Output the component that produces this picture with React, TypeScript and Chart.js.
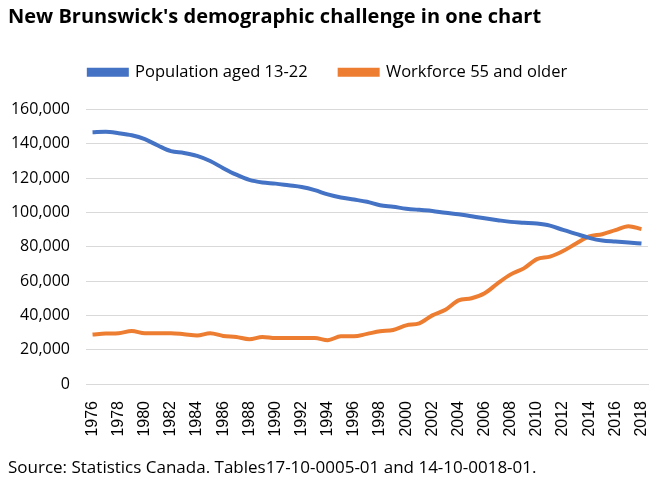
import React, { useEffect, useRef } from "react";
import { Chart, registerables } from "chart.js";

Chart.register(...registerables);

const years: string[] = [];
for (let y = 1976; y <= 2018; y++) years.push(String(y));

const population1322 = [
  146700, 147000, 146200, 145000, 142700, 139000, 135700, 134700, 133000, 130000,
  125800, 122000, 119000, 117500, 116800, 115800, 114800, 113000, 110500, 108700,
  107500, 106200, 104200, 103300, 102200, 101500, 100900, 99800, 99000, 97800,
  96600, 95500, 94500, 94000, 93500, 92300, 89800, 87500, 85200, 83600,
  83000, 82500, 81900,
];

const workforce55 = [
  28800, 29400, 29600, 30900, 29600, 29600, 29600, 29000, 28300, 29600,
  28000, 27400, 26100, 27400, 26800, 26800, 26800, 26800, 25500, 27800,
  27800, 29200, 30700, 31500, 34200, 35400, 40000, 43300, 48700, 50000,
  52900, 58700, 63900, 67400, 72800, 74200, 77500, 81900, 86000, 87300,
  89700, 92000, 90300,
];

const titleText = "New Brunswick's demographic challenge in one chart";
const sourceText = "Source: Statistics Canada. Tables17-10-0005-01 and 14-10-0018-01.";
const seriesNames = ["Population aged 13-22", "Workforce 55 and older"];

const FONT = "'Open Sans', 'Liberation Sans', sans-serif";
const XFONT = "'Liberation Sans', Arial, sans-serif";

const legendSpacer = {
  id: "legendSpacer",
  beforeInit(chart: any) {
    const l = chart.legend;
    if (!l) return;
    const f = l.fit;
    l.fit = function () {
      f.call(this);
      this.height += 19;
    };
  },
};

export default function App() {
  const ref = useRef<HTMLCanvasElement | null>(null);
  useEffect(() => {
    if (!ref.current) return;
    const chart = new Chart(ref.current, {
      type: "line",
      data: {
        labels: years,
        datasets: [
          {
            label: seriesNames[0],
            data: population1322,
            borderColor: "#4472C4",
            backgroundColor: "#4472C4",
            borderWidth: 4,
            pointRadius: 0,
            tension: 0.4,
            cubicInterpolationMode: "monotone",
          },
          {
            label: seriesNames[1],
            data: workforce55,
            borderColor: "#ED7D31",
            backgroundColor: "#ED7D31",
            borderWidth: 4,
            pointRadius: 0,
            tension: 0.4,
            cubicInterpolationMode: "monotone",
          },
        ],
      },
      plugins: [legendSpacer],
      options: {
        responsive: true,
        maintainAspectRatio: false,
        animation: false,
        layout: { padding: { left: 8, right: 13, top: 0, bottom: 0 } },
        plugins: {
          title: {
            display: true,
            text: titleText,
            align: "start",
            color: "#000",
            font: { family: FONT, size: 20, weight: "bold" },
            padding: { top: 5, bottom: 3 },
          },
          subtitle: {
            display: true,
            text: sourceText,
            position: "bottom",
            align: "start",
            color: "#000",
            font: { family: FONT, size: 17 },
            padding: { top: 12, bottom: 9 },
          },
          legend: {
            display: true,
            position: "top",
            labels: {
              boxWidth: 38,
              boxHeight: 5,
              padding: 32,
              color: "#000",
              font: { family: FONT, size: 16.5 },
            },
          },
          tooltip: { enabled: false },
        },
        scales: {
          x: {
            offset: true,
            grid: { display: false },
            border: { display: true, color: "#d9d9d9" },
            afterFit: (s: any) => {
              s.paddingLeft = 0;
              s.paddingRight = 0;
            },
            ticks: {
              autoSkip: false,
              maxRotation: 90,
              minRotation: 90,
              padding: 9,
              color: "#000",
              font: { family: XFONT, size: 16 },
              callback: function (_v: any, i: number) {
                return i % 2 === 0 ? years[i] : "";
              },
            },
          },
          y: {
            min: 0,
            max: 160000,
            grid: { color: "#d9d9d9", drawTicks: false },
            border: { display: false },
            afterFit: (s: any) => {
              s.width = 78;
            },
            ticks: {
              stepSize: 20000,
              padding: 16,
              color: "#000",
              font: { family: FONT, size: 16 },
              callback: (v: any) => Number(v).toLocaleString("en-US"),
            },
          },
        },
      },
    });
    return () => chart.destroy();
  }, []);
  return (
    <div style={{ position: "fixed", left: 0, top: 0, width: 661, height: 487, background: "#fff" }}>
      <canvas ref={ref} />
    </div>
  );
}
